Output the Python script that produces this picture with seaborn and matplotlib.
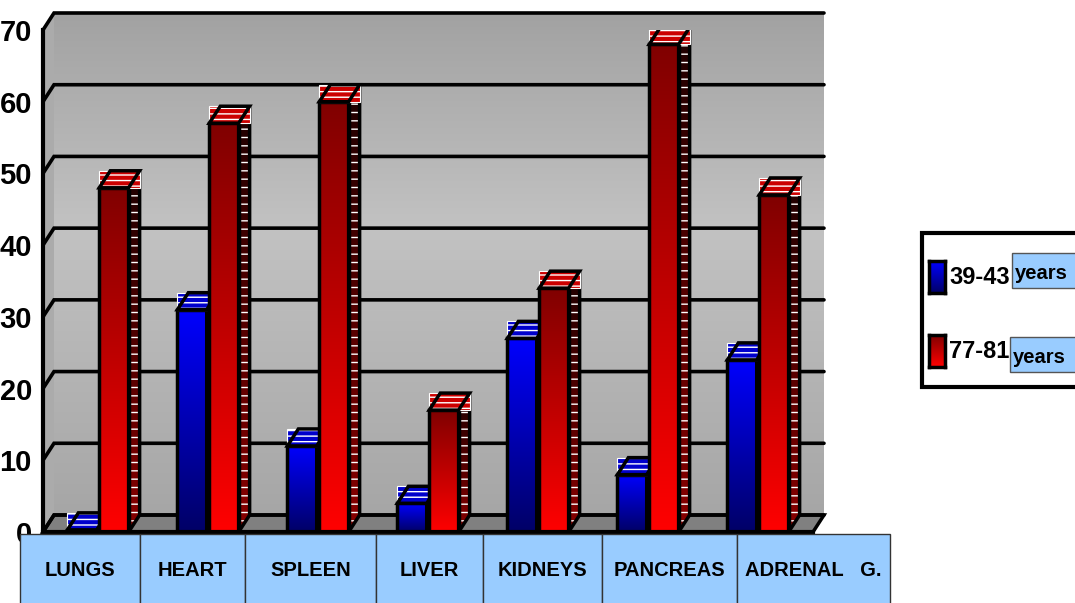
import numpy as np
import pandas as pd
import matplotlib
matplotlib.use("Agg")
import matplotlib.pyplot as plt
from matplotlib.patches import Polygon, Rectangle
from matplotlib.colors import to_rgb
from matplotlib.ticker import MultipleLocator
import seaborn as sns

# ---- data -----------------------------------------------------------------
organs = ["LUNGS", "HEART", "SPLEEN", "LIVER", "KIDNEYS", "PANCREAS", "ADRENAL   G."]
young = [0.3, 31, 12, 4, 27, 8, 24]
old = [48, 57, 60, 17, 34, 68, 47]
groups = ["39-43", "77-81"]
group_tags = ["years", "years"]
yticks = [0, 10, 20, 30, 40, 50, 60, 70]

# ---- style ----------------------------------------------------------------
sns.set_style("white")
SANS = ["Liberation Sans", "DejaVu Sans"]
plt.rcParams["font.family"] = SANS
plt.rcParams["text.color"] = "black"
plt.rcParams["ytick.labelcolor"] = "black"

W, H = 1075, 603
fig = plt.figure(figsize=(W / 100, H / 100), dpi=100)
fig.patch.set_facecolor("white")

# front plane of the 3-D box, in pixels
FL, FR, FB, FT = 43, 813, 532, 30
ax = fig.add_axes([FL / W, (H - FB) / H, (FR - FL) / W, (FB - FT) / H])
ax.patch.set_visible(False)

XMIN, XMAX, YMAX = -0.5, len(organs) - 0.5, 70
DX, DY = 11, 17                      # depth offset in pixels
dxd = DX * (XMAX - XMIN) / (FR - FL)
dyd = DY * YMAX / (FB - FT)

df = pd.DataFrame({
    "organ": organs * 2,
    "value": young + old,
    "group": [groups[0]] * len(organs) + [groups[1]] * len(organs),
})

sns.barplot(data=df, x="organ", y="value", hue="group",
            palette=["#0000ff", "#ff0000"], width=0.58, gap=0.08,
            edgecolor="black", linewidth=2.5, legend=False, ax=ax)


def vgrad(top, bottom, n=256):
    t = np.linspace(0, 1, n)[:, None]
    a, b = np.array(to_rgb(top)), np.array(to_rgb(bottom))
    return (a * (1 - t) + b * t)[:, None, :]


# ---- back wall, side wall and floor ---------------------------------------
wall = np.concatenate([vgrad("#a2a2a2", "#c2c2c2", 110), vgrad("#c2c2c2", "#a6a6a6", 146)])
ax.imshow(wall, extent=(XMIN + dxd, XMAX + dxd, dyd, YMAX + dyd), aspect="auto",
          origin="upper", zorder=0.1, clip_on=False, interpolation="bilinear")
ax.add_patch(Polygon([(XMIN, 0), (XMIN, YMAX), (XMIN + dxd, YMAX + dyd), (XMIN + dxd, dyd)],
                     closed=True, facecolor="#ababab", edgecolor="none", zorder=0.2, clip_on=False))
ax.add_patch(Polygon([(XMIN, 0), (XMAX, 0), (XMAX + dxd, dyd), (XMIN + dxd, dyd)],
                     closed=True, facecolor="#808080", edgecolor="black", linewidth=2.5,
                     zorder=0.3, clip_on=False, joinstyle="miter"))
for v in yticks:
    ax.plot([XMIN, XMIN + dxd, XMAX + dxd], [v, v + dyd, v + dyd], color="black",
            linewidth=2.6, zorder=0.5, clip_on=False, solid_joinstyle="miter")

# ---- bars: gradient fronts, hatched sides and tops ------------------------
styles = [
    dict(front=("#0000ff", "#000066"), side=("#000040", "#000080"), top="#0000cc"),
    dict(front=("#800000", "#ff0000"), side=("#1e0000", "#8a0000"), top="#cc0000"),
]
for k, cont in enumerate(ax.containers):
    st = styles[k]
    z = 2 + k
    for p in cont.patches:
        x0, w, h = p.get_x(), p.get_width(), p.get_height()
        x1 = x0 + w
        im = ax.imshow(vgrad(*st["front"]), extent=(x0, x1, 0, h), aspect="auto",
                       origin="upper", zorder=z, interpolation="bilinear")
        im.set_clip_path(p)
        p.set_facecolor("none")
        p.set_zorder(z + 0.1)
        p.set_joinstyle("miter")
        # side face
        side_pts = [(x1, 0), (x1 + dxd, dyd), (x1 + dxd, h + dyd), (x1, h)]
        side = Polygon(side_pts, closed=True, facecolor="none", edgecolor="none",
                       transform=ax.transData)
        ax.add_patch(side)
        sim = ax.imshow(vgrad(*st["side"]), extent=(x1, x1 + dxd, 0, h + dyd), aspect="auto",
                        origin="upper", zorder=z, interpolation="bilinear")
        sim.set_clip_path(side)
        ax.add_patch(Polygon(side_pts, closed=True, facecolor="none", edgecolor="white",
                             hatch="--", linewidth=0, zorder=z + 0.05))
        ax.add_patch(Polygon(side_pts, closed=True, facecolor="none", edgecolor="black",
                             linewidth=2.5, zorder=z + 0.1, joinstyle="miter"))
        # top face
        ax.add_patch(Rectangle((x0, h), w + dxd, dyd, facecolor=st["top"], edgecolor="white",
                               hatch="---", linewidth=0.8, zorder=z + 0.15))
        ax.add_patch(Polygon([(x0, h), (x1, h), (x1 + dxd, h + dyd), (x0 + dxd, h + dyd)],
                             closed=True, facecolor="none", edgecolor="black", linewidth=2.5,
                             zorder=z + 0.2, joinstyle="miter"))

# ---- axes -----------------------------------------------------------------
ax.set_xlim(XMIN, XMAX)
ax.set_ylim(0, YMAX)
ax.set_yticks(yticks)
ax.set_yticklabels([str(v) for v in yticks], fontweight="bold", fontsize=21, family=SANS)
ax.yaxis.set_minor_locator(MultipleLocator(10 / 7))
ax.tick_params(axis="y", which="major", direction="out", length=6, width=2.5, color="black",
               pad=2, labelcolor="black")
ax.tick_params(axis="y", which="minor", direction="in", length=9, width=1.2, color="white")
ax.set_xticks([])
ax.set_xlabel("")
ax.set_ylabel("")
for s in ["top", "right"]:
    ax.spines[s].set_visible(False)
for s in ["left", "bottom"]:
    ax.spines[s].set_linewidth(3)
    ax.spines[s].set_color("black")
    ax.spines[s].set_zorder(6)

# ---- category boxes under the floor ---------------------------------------
box_edges = [20, 140, 245, 376, 483, 602, 737, 890]
box_top, box_bot = 534, 606
for i, name in enumerate(organs):
    xa, xb = box_edges[i], box_edges[i + 1]
    fig.add_artist(Rectangle((xa / W, 1 - box_bot / H), (xb - xa) / W, (box_bot - box_top) / H,
                             transform=fig.transFigure, facecolor="#99ccff",
                             edgecolor="#333333", linewidth=1, zorder=10))
    fig.text((xa + xb) / 2 / W, 1 - 571 / H, name, ha="center", va="center", color="black",
             fontsize=14.5, fontweight="bold", family=SANS, zorder=11)

# ---- legend ---------------------------------------------------------------
fig.add_artist(Rectangle((922 / W, 1 - 387 / H), 170 / W, 154 / H, transform=fig.transFigure,
                         facecolor="white", edgecolor="black", linewidth=3, zorder=10))
legend_rows = [277, 351]
tag_boxes = [(1012, 253, 288), (1010, 337, 372)]
swatches = [("#0000ff", "#000066"), ("#800000", "#ff0000")]
for yc, lab, tag, grad, tb in zip(legend_rows, groups, group_tags, swatches, tag_boxes):
    sax = fig.add_axes([929 / W, 1 - (yc + 16) / H, 16 / W, 32 / H], zorder=11)
    sax.imshow(vgrad(*grad), aspect="auto", interpolation="bilinear")
    sax.set_xticks([])
    sax.set_yticks([])
    for sp in sax.spines.values():
        sp.set_linewidth(2.5)
        sp.set_color("black")
    fig.text(949 / W, 1 - yc / H, lab, ha="left", va="center", fontweight="bold",
             fontsize=17, family=SANS, color="black", zorder=12)
    bx, bt, bb = tb
    fig.add_artist(Rectangle((bx / W, 1 - bb / H), 70 / W, (bb - bt) / H,
                             transform=fig.transFigure, facecolor="#99ccff",
                             edgecolor="#555555", linewidth=1, zorder=13))
    fig.text((bx + 3) / W, 1 - ((bt + bb) / 2 + 3) / H, tag, ha="left", va="center",
             family=SANS, fontweight="bold", fontsize=14.5, color="black", zorder=14)

fig.savefig("out.png", dpi=100)
